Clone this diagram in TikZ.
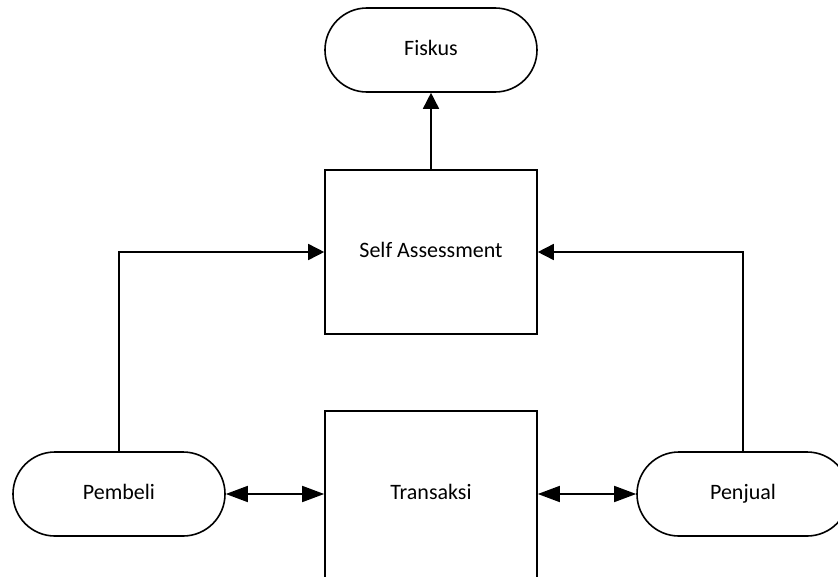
\documentclass[tikz,border=0pt]{standalone}
\usepackage{fontspec}
\setmainfont{Carlito}
\usetikzlibrary{arrows.meta}
\begin{document}
\begin{tikzpicture}[x=1pt,y=-1pt,
  every node/.style={font=\fontsize{22}{26}\selectfont, line width=1.6pt, inner sep=0pt, text height=15pt, text depth=4pt},
  term/.style={draw, minimum width=212pt, minimum height=84pt, rounded corners=41.9pt},
  proc/.style={draw, minimum width=212pt},
  conn/.style={line width=1.6pt, -{Triangle[length=16pt,width=16pt]}},
  dconn/.style={line width=1.6pt, {Triangle[length=22pt,width=16pt]}-{Triangle[length=22pt,width=16pt]}}]
\clip (0,0) rectangle (838,576);
\fill[white] (0,0) rectangle (838,576);
\node[term] (fiskus) at (431,50) {Fiskus};
\node[proc, minimum height=164pt] (sa) at (431,252) {Self Assessment};
\node[proc, minimum height=172pt] (trans) at (431,497) {};
\node (translabel) at (431,494) {Transaksi};
\node[term] (pembeli) at (119,494) {Pembeli};
\node[term] (penjual) at (743,494) {Penjual};
\draw[conn] (sa.north) -- (fiskus.south);
\draw[conn] (pembeli.north) |- (sa.west);
\draw[conn] (penjual.north) |- (sa.east);
\draw[dconn] (pembeli.east) -- (pembeli.east -| trans.west);
\draw[dconn] (penjual.west -| trans.east) -- (penjual.west);
\end{tikzpicture}
\end{document}
